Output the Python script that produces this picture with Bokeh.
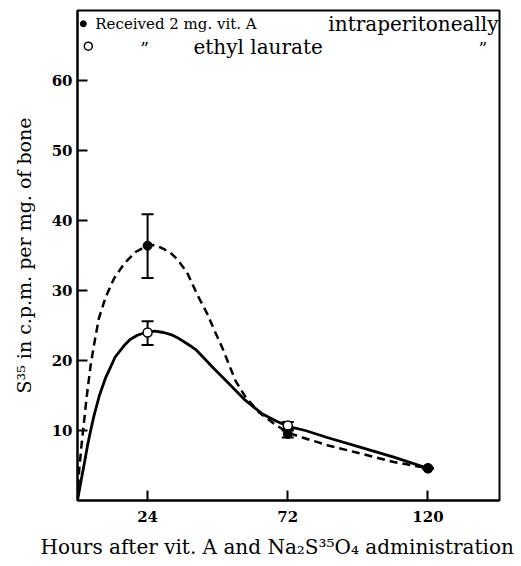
from bokeh.plotting import figure
from bokeh.models import Range1d, Whisker, ColumnDataSource, Label, FixedTicker, TeeHead, Title
from bokeh.embed import file_html
from bokeh.resources import INLINE

# ---- data ----
hours_points = [24, 72, 120]
vitA_mean = [36.4, 9.5, 4.6]
vitA_low = [31.8, 9.0, 4.6]
vitA_high = [40.9, 10.0, 4.6]
laur_mean = [24.0, 10.7, 4.6]
laur_low = [22.2, 10.2, 4.6]
laur_high = [25.6, 11.2, 4.6]

# hand-drawn smooth curves
vitA_curve_x = [0, 0.6, 1.4, 2.3, 3.2, 4.5, 5.6, 7.3, 9.6, 12.5, 15.9, 19.9, 23.9, 26.5,
                29.2, 31.8, 34.1, 37.5, 40.9, 44.4, 47.2, 49.5, 51.8, 54.1, 57.5, 62.1,
                67.2, 72.0, 77.0, 85.5, 97.0, 108.3, 120.0]
vitA_curve_y = [0, 4.5, 8.0, 11.5, 15.0, 19.3, 22.1, 26.0, 29.0, 31.7, 33.8, 35.5, 36.4, 36.5,
                36.0, 35.4, 34.5, 32.6, 29.5, 26.7, 24.0, 21.9, 19.5, 17.1, 14.8, 12.6,
                11.0, 9.7, 9.0, 7.9, 6.7, 5.5, 4.6]
laur_curve_x = [0, 1.2, 2.3, 3.4, 4.5, 5.7, 7.5, 9.5, 10.8, 12.9, 15.9, 18.0, 20.5, 23.9,
                26.5, 29.5, 32.0, 34.1, 38.6, 40.4, 43.2, 46.1, 51.8, 57.5, 63.2, 67.8,
                72.0, 78.0, 85.5, 97.0, 108.3, 120.0]
laur_curve_y = [0, 2.8, 5.2, 7.8, 10.0, 12.2, 15.0, 17.4, 18.6, 20.5, 22.1, 23.0, 23.6, 24.1,
                24.2, 24.0, 23.7, 23.3, 22.1, 21.6, 20.4, 19.1, 16.7, 14.3, 12.4, 11.4,
                10.6, 10.0, 9.0, 7.6, 6.2, 4.6]

x_ticks = [24, 72, 120]
y_ticks = [10, 20, 30, 40, 50, 60]

FONT = "DejaVu Serif"

p = figure(width=521, height=566, output_backend="svg", toolbar_location=None,
           x_range=Range1d(0, 144.5), y_range=Range1d(0, 70.0),
           min_border_left=77, min_border_right=22, min_border_top=10, min_border_bottom=66)
p.grid.visible = False
p.background_fill_color = "white"
p.border_fill_color = "white"
p.outline_line_color = "black"
p.outline_line_width = 2

for ax in (p.xaxis[0], p.yaxis[0]):
    ax.axis_line_width = 2
    ax.major_tick_in = 10
    ax.major_tick_out = 0
    ax.major_tick_line_width = 2
    ax.minor_tick_line_color = None
    ax.major_label_text_font = FONT
    ax.major_label_text_font_style = "bold"
    ax.major_label_text_font_size = "15px"
    ax.major_label_text_color = "black"
    ax.axis_label_text_font = FONT
    ax.axis_label_text_font_style = "normal"
    ax.axis_label_text_font_size = "19px"
    ax.axis_label_text_color = "black"

p.xaxis.ticker = FixedTicker(ticks=x_ticks)
p.yaxis.ticker = FixedTicker(ticks=y_ticks)
p.xaxis.major_label_standoff = 10
p.yaxis.major_label_standoff = 5
p.yaxis.axis_label = "S\u00b3\u2075 in c.p.m. per mg. of bone"
p.yaxis.axis_label_standoff = 14

# x-axis title, shifted slightly left of centre as in the original
p.add_layout(Title(text="Hours after vit. A and Na\u2082S\u00b3\u2075O\u2084 administration",
                   text_font=FONT, text_font_size="20px", text_font_style="normal",
                   align="left", offset=-37, standoff=16, text_color="black"), "below")

# curves
p.line(vitA_curve_x, vitA_curve_y, line_color="black", line_width=2.5, line_dash="8 5",
       line_join="round")
p.line(laur_curve_x, laur_curve_y, line_color="black", line_width=2.8, line_join="round")

# error bars
src_a = ColumnDataSource(dict(x=hours_points, lo=vitA_low, hi=vitA_high))
src_l = ColumnDataSource(dict(x=hours_points, lo=laur_low, hi=laur_high))
for src in (src_a, src_l):
    w = Whisker(source=src, base="x", lower="lo", upper="hi", line_width=2, line_color="black",
                upper_head=TeeHead(size=12, line_width=2, line_color="black"),
                lower_head=TeeHead(size=12, line_width=2, line_color="black"))
    p.add_layout(w)

# points
p.scatter(hours_points, laur_mean, marker="circle", size=9, fill_color="white",
          line_color="black", line_width=1.5)
p.scatter(hours_points, vitA_mean, marker="circle", size=9, fill_color="black",
          line_color="black")

# legend keys and text in the top of the frame
p.scatter([2.0], [68.1], marker="circle", size=6, fill_color="black", line_color="black")
p.scatter([3.7], [64.9], marker="circle", size=8, fill_color="white", line_color="black",
          line_width=1.5)
leg = [
    (6.1, 68.1, "Received 2 mg. vit. A", "15px"),
    (85.9, 68.1, "intraperitoneally", "20px"),
    (21.5, 64.6, "\u201d", "17px"),
    (39.7, 64.8, "ethyl laurate", "20px"),
    (137.3, 64.6, "\u201d", "17px"),
]
for x, y, t, fs in leg:
    p.add_layout(Label(x=x, y=y, text=t, text_font=FONT, text_font_size=fs,
                       text_baseline="middle", text_align="left", text_color="black"))

open("out.html", "w").write(file_html(p, INLINE))
